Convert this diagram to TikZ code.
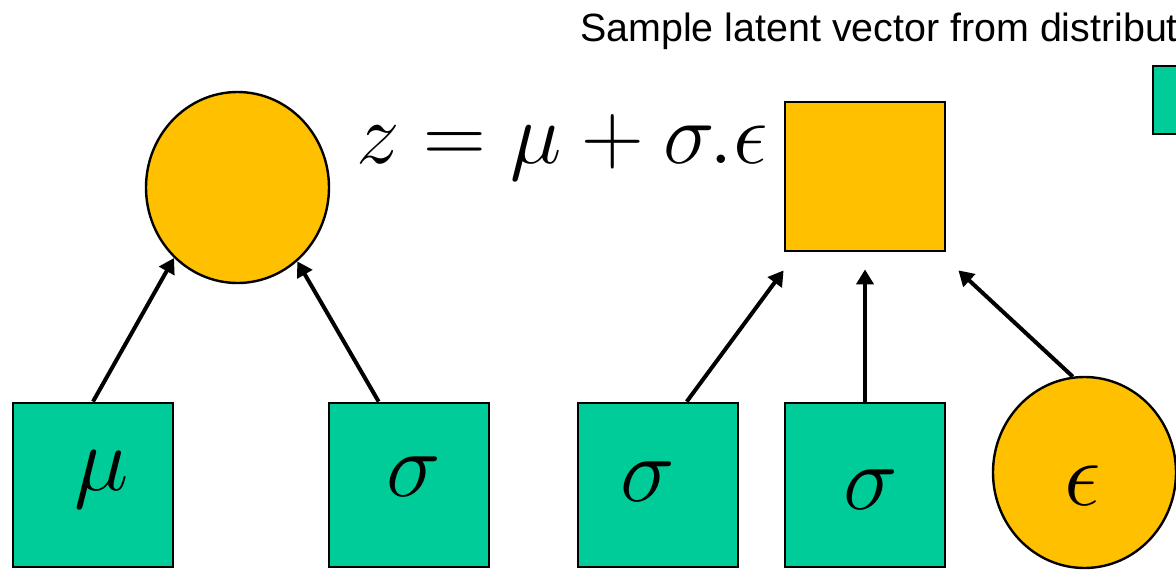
\RequirePackage{fix-cm}
\documentclass[tikz,border=0pt]{standalone}
\usepackage{fontspec}
\newfontfamily\arialfont{Liberation Sans}
\usetikzlibrary{shapes.geometric,arrows.meta,calc}
\definecolor{boxgreen}{RGB}{0,204,153}
\definecolor{nodeyellow}{RGB}{255,192,0}
\begin{document}
\begin{tikzpicture}[x=1pt,y=-1pt,
  gbox/.style={rectangle,draw=black,line width=2.8pt,fill=boxgreen,minimum width=160pt,minimum height=164pt,inner sep=0pt},
  yell/.style={ellipse,draw=black,line width=2.4pt,fill=nodeyellow,minimum width=183pt,minimum height=191pt,inner sep=0pt},
  ysq/.style={rectangle,draw=black,line width=2.8pt,fill=nodeyellow,minimum width=160pt,minimum height=149pt,inner sep=0pt},
  conn/.style={line width=4pt,-{Triangle[length=15pt,width=17pt]}},
  lbl/.style={inner sep=0pt,font=\fontsize{92}{100}\selectfont}]
\useasboundingbox (0,0) rectangle (1176,571);
\clip (0,0) rectangle (1176,571);
\node[anchor=base west,inner sep=0pt,font=\arialfont\fontsize{39.4}{41}\selectfont] (title) at (580,41) {Sample latent vector from distribut};
\node[anchor=base west,inner sep=0pt,font=\fontsize{87}{90}\selectfont] (eq) at (356,163) {$z=\mu+\sigma.\epsilon$};
\node[yell] (top) at (237.5,187.5) {};
\node[gbox] (b1) at (93,485) {};
\node[gbox] (b2) at (409,485) {};
\node[gbox] (b3) at (658,485) {};
\node[gbox] (b4) at (865,485) {};
\node[ysq] (sq) at (865,176.5) {};
\node[yell] (eps) at (1084.5,472.5) {};
\node[gbox,minimum width=66pt,minimum height=68pt] (leg) at (1186,100) {};
\node[lbl] (lmu) at (102,480) {$\mu$};
\node[lbl] (ls2) at (414,477) {$\sigma$};
\node[lbl] (ls3) at (648,482) {$\sigma$};
\node[lbl] (ls4) at (871,490) {$\sigma$};
\node[lbl] (leps) at (1083,486) {$\epsilon$};
\draw[conn] (b1.north) -- (top.228.7);
\draw[conn] (b2.110.7) -- (top.309.8);
\draw[conn] (b3.71.8) -- ($(sq.south west)+(0,18)$);
\draw[conn] (b4.north) -- ($(sq.south)+(0,17)$);
\draw[conn] (eps.97.3) -- ($(sq.south east)+(12,18)$);
\end{tikzpicture}
\end{document}
